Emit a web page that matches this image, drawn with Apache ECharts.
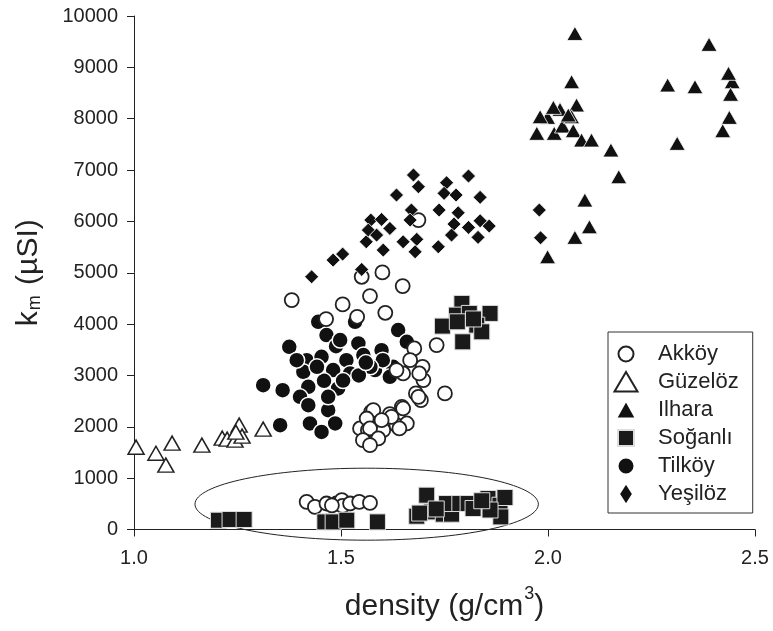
<!DOCTYPE html>
<html><head><meta charset="utf-8">
<script src="https://cdn.jsdelivr.net/npm/echarts@6/dist/echarts.min.js"></script>
<style>html,body{margin:0;padding:0;background:#fff}#c{width:773px;height:631px}</style>
</head><body><div id="c"></div>
<script>
var seriesNames = ['Akköy','Güzelöz','Ilhara','Soğanlı','Tilköy','Yeşilöz'];
var xTicks = [1.0, 1.5, 2.0, 2.5];
var yTicks = [0,1000,2000,3000,4000,5000,6000,7000,8000,9000,10000];

var akkoy = [[1.381,4467],[1.504,4383],[1.570,4545],[1.600,5007],[1.550,4921],[1.649,4740],[1.607,4220],[1.539,4142],[1.464,4097],[1.731,3591],[1.677,3526],[1.697,3168],[1.650,3039],[1.699,2909],[1.681,2650],[1.751,2650],[1.693,2519],[1.647,2389],[1.618,2246],[1.573,2291],[1.582,2129],[1.546,1968],[1.565,1935],[1.602,1935],[1.634,2032],[1.659,2065],[1.634,3104],[1.667,3298],[1.689,3039],[1.687,2583],[1.650,2357],[1.622,2194],[1.578,2324],[1.562,2162],[1.598,2129],[1.570,1968],[1.590,1773],[1.553,1740],[1.570,1642],[1.641,1968],[1.687,6026],[1.417,538],[1.437,440],[1.465,506],[1.489,506],[1.502,571],[1.504,460],[1.522,506],[1.544,538],[1.570,518],[1.478,470]];
var guzeloz = [[1.005,1603],[1.053,1486],[1.077,1253],[1.092,1682],[1.164,1643],[1.213,1779],[1.225,1760],[1.244,1740],[1.254,2032],[1.261,1818],[1.246,1896],[1.312,1954]];
var ilhara = [[2.065,9660],[2.057,8720],[2.069,8267],[2.029,8182],[1.999,8026],[1.973,7715],[2.015,7715],[2.035,7857],[2.061,7766],[2.057,8038],[2.081,7584],[2.105,7584],[2.152,7390],[2.171,6870],[2.089,6415],[2.100,5895],[2.065,5689],[1.999,5311],[2.013,8221],[1.981,8038],[2.049,8072],[2.389,9448],[2.289,8656],[2.355,8623],[2.445,8720],[2.436,8884],[2.441,8475],[2.438,8026],[2.422,7766],[2.312,7520]];
var soganli = [[1.204,181],[1.232,195],[1.266,195],[1.461,148],[1.481,148],[1.514,181],[1.588,148],[1.683,259],[1.707,668],[1.719,343],[1.747,298],[1.767,298],[1.755,506],[1.787,506],[1.807,506],[1.819,409],[1.855,604],[1.884,473],[1.896,623],[1.886,245],[1.860,380],[1.690,320],[1.730,400],[1.840,560],[1.792,4403],[1.779,4175],[1.810,4208],[1.860,4208],[1.745,3961],[1.781,4045],[1.828,3980],[1.840,3850],[1.794,3655],[1.820,4100]];
var tilkoy = [[1.375,3558],[1.312,2811],[1.359,2714],[1.353,2032],[1.445,4045],[1.534,4045],[1.638,3883],[1.465,3786],[1.488,3571],[1.542,3624],[1.417,3298],[1.453,3363],[1.513,3298],[1.554,3396],[1.598,3493],[1.659,3655],[1.409,3070],[1.481,3104],[1.522,3039],[1.582,3104],[1.626,3168],[1.421,2778],[1.459,2895],[1.493,2747],[1.401,2583],[1.421,2422],[1.469,2324],[1.425,2065],[1.486,2065],[1.453,1901],[1.498,3689],[1.601,3298],[1.618,2974],[1.571,3168],[1.442,3168],[1.393,3298],[1.469,2583],[1.543,3000],[1.505,2900],[1.560,3250]];
var yesiloz = [[1.429,4921],[1.481,5246],[1.504,5363],[1.550,5065],[1.561,5603],[1.572,6026],[1.566,5831],[1.598,6039],[1.618,5864],[1.586,5733],[1.602,5441],[1.634,6513],[1.650,5603],[1.670,6221],[1.667,6026],[1.675,6903],[1.687,6675],[1.683,5650],[1.679,5408],[1.735,5506],[1.737,6221],[1.755,6753],[1.749,6546],[1.778,6513],[1.808,6883],[1.836,6468],[1.783,6168],[1.773,5948],[1.767,5733],[1.808,5883],[1.836,6012],[1.831,5689],[1.858,5909],[1.979,6221],[1.982,5681]];
// annotation ellipse: [centre x, centre y, radius x, radius y] in data units
var ellipse = [[1.562, 493, 0.4147, 701]];

var FONT = '"Liberation Sans", Arial, Helvetica, sans-serif';
var TXT = '#222';
var chart = echarts.init(document.getElementById('c'), null, {renderer:'canvas'});

function pad(shape){ return 'path://M0,0M43,22' + shape; }
var legendIcons = {
  'Akköy': pad('M8.5,11a7.5,7.5 0 1,0 15,0a7.5,7.5 0 1,0 -15,0Z'),
  'Güzelöz': pad('M16,1L27.5,20.5L4.5,20.5Z'),
  'Ilhara': pad('M16,1.5L26,19.5L6,19.5Z'),
  'Soğanlı': pad('M8,3H24V19H8Z'),
  'Tilköy': pad('M7.5,11a8.5,8.5 0 1,0 17,0a8.5,8.5 0 1,0 -17,0Z'),
  'Yeşilöz': pad('M16,0L23,11L16,22L9,11Z')
};

var option = {
  animation: false,
  backgroundColor: '#fff',
  textStyle: {fontFamily: FONT, color: TXT},
  grid: {left: 134, right: 18, top: 16, bottom: 101.5, containLabel: false, outerBoundsMode: 'none'},
  legend: {
    orient: 'vertical', left: 608, top: 332,
    padding: [10, 14, 7, 1],
    itemWidth: 43, itemHeight: 22, itemGap: 4,
    borderColor: '#333', borderWidth: 1,
    selectedMode: false,
    textStyle: {fontFamily: FONT, fontSize: 22, color: TXT, lineHeight: 22, padding: [0,0,0,0]},
    data: seriesNames.map(function(n){ return {name: n, icon: legendIcons[n]}; })
  },
  xAxis: {
    type: 'value', min: 1.0, max: 2.5, interval: 0.5,
    name: '{a|density (g/cm}{s|3}{a|)}',
    nameLocation: 'middle', nameGap: 56,
    nameTextStyle: {rich: {
      a: {fontFamily: FONT, fontSize: 30, color: TXT, lineHeight: 36, verticalAlign: 'bottom'},
      s: {fontFamily: FONT, fontSize: 18, color: TXT, lineHeight: 36, verticalAlign: 'top', padding: [0,0,14,1]}
    }},
    axisLine: {lineStyle: {color: '#222', width: 1}},
    axisTick: {show: true, inside: false, length: 7, lineStyle: {color: '#222'}},
    axisLabel: {fontSize: 20, color: TXT, margin: 19, fontFamily: FONT,
      formatter: function(v){ return v.toFixed(1); }},
    splitLine: {show: false}
  },
  yAxis: {
    type: 'value', min: 0, max: 10000, interval: 1000,
    name: '{a|k}{m|m}{a| (µSI)}',
    nameLocation: 'middle', nameGap: 90, nameRotate: 90,
    nameTextStyle: {rich: {
      a: {fontFamily: FONT, fontSize: 30, color: TXT, lineHeight: 34, verticalAlign: 'bottom'},
      m: {fontFamily: FONT, fontSize: 18, color: TXT, lineHeight: 24, verticalAlign: 'bottom', padding: [0,2,0,1]}
    }},
    axisLine: {show: true, lineStyle: {color: '#222', width: 1}},
    axisTick: {show: true, inside: false, length: 7, lineStyle: {color: '#222'}},
    axisLabel: {fontSize: 20, color: TXT, margin: 16, fontFamily: FONT,
      formatter: function(v){ return String(v); }},
    splitLine: {show: false}
  },
  series: [
    {type: 'custom', name: 'ellipse', data: ellipse, clip: false, z: 1, silent: true,
      renderItem: function(params, api){
        var c = api.coord([api.value(0), api.value(1)]);
        var s = api.size([api.value(2), api.value(3)]);
        return {type: 'ellipse', shape: {cx: c[0], cy: c[1], rx: s[0], ry: s[1]},
          style: {fill: 'none', stroke: '#222', lineWidth: 1}};
      }},
    {type: 'scatter', name: 'Güzelöz', data: guzeloz, symbol: 'triangle', symbolSize: [16,14], z: 2,
      itemStyle: {color: '#fff', borderColor: '#222', borderWidth: 1.5, opacity: 1}},
    {type: 'scatter', name: 'Ilhara', data: ilhara, symbol: 'triangle', symbolSize: [16,14], z: 2,
      itemStyle: {color: '#111', borderColor: '#fff', borderWidth: 0.8, opacity: 1}},
    {type: 'scatter', name: 'Tilköy', data: tilkoy, symbol: 'circle', symbolSize: 16, z: 2,
      itemStyle: {color: '#111', borderColor: '#fff', borderWidth: 1.5, opacity: 1}},
    {type: 'scatter', name: 'Akköy', data: akkoy, symbol: 'circle', symbolSize: 14, z: 2,
      itemStyle: {color: '#fff', borderColor: '#222', borderWidth: 1.8, opacity: 1}},
    {type: 'scatter', name: 'Soğanlı', data: soganli, symbol: 'rect', symbolSize: 16, z: 2,
      itemStyle: {color: '#1a1a1a', borderColor: '#ddd', borderWidth: 1, opacity: 1}},
    {type: 'scatter', name: 'Yeşilöz', data: yesiloz, symbol: 'diamond', symbolSize: 14, z: 2,
      itemStyle: {color: '#111', borderColor: '#fff', borderWidth: 0.8, opacity: 1}}
  ]
};
chart.setOption(option);
</script>
</body></html>
